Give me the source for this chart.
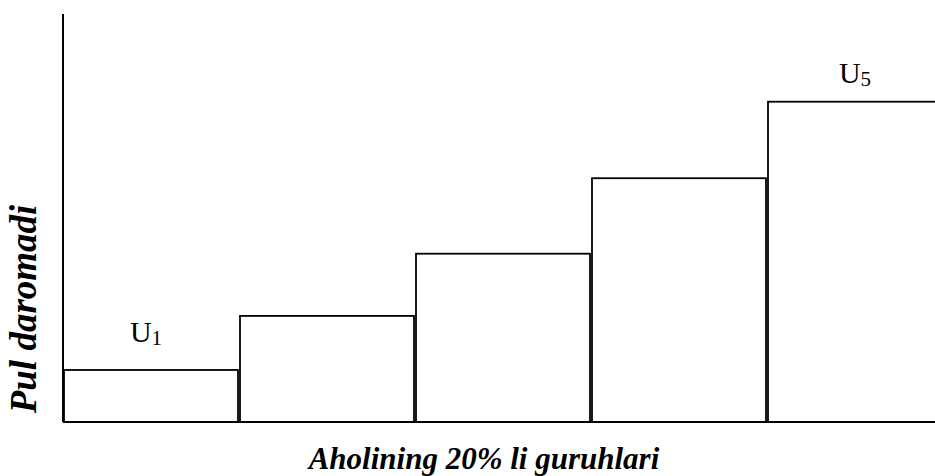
<!DOCTYPE html>
<html>
<head>
<meta charset="utf-8">
<script src="https://cdn.jsdelivr.net/npm/d3@7"></script>
<style>
  body { margin: 0; background: #fff; }
  svg text { font-family: "Liberation Serif", "Times New Roman", Times, serif; }
</style>
</head>
<body>
<div id="chart"></div>
<script>
// Quintile groups and their money income (relative units)
const groups = ["1", "2", "3", "4", "5"];
const income = [5.1, 10.4, 16.5, 23.9, 31.4];
const labelled = ["1", "5"]; // only first and last are tagged U1 / U5

const width = 935;
const height = 476;
const margin = { top: 14, right: -8, bottom: 54, left: 63 };

const svg = d3
  .select("#chart")
  .append("svg")
  .attr("width", width)
  .attr("height", height);

const x = d3
  .scaleBand()
  .domain(groups)
  .range([margin.left, width - margin.right])
  .padding(0);

const y = d3
  .scaleLinear()
  .domain([0, 40])
  .range([height - margin.bottom, margin.top]);

const data = groups.map((g, i) => ({ group: g, value: income[i] }));

// Bars
svg
  .selectAll("rect.bar")
  .data(data)
  .join("rect")
  .attr("class", "bar")
  .attr("x", (d) => x(d.group) + 1)
  .attr("y", (d) => y(d.value))
  .attr("width", x.bandwidth() - 2)
  .attr("height", (d) => y(0) - y(d.value))
  .attr("fill", "#fff")
  .attr("stroke", "#000")
  .attr("stroke-width", 1.8);

// Axes (plain lines, no ticks)
svg
  .append("line")
  .attr("x1", x.range()[0])
  .attr("x2", width)
  .attr("y1", y(0))
  .attr("y2", y(0))
  .attr("stroke", "#000")
  .attr("stroke-width", 2);

svg
  .append("line")
  .attr("x1", x.range()[0])
  .attr("x2", x.range()[0])
  .attr("y1", y(0))
  .attr("y2", y.range()[1])
  .attr("stroke", "#000")
  .attr("stroke-width", 2);

// U labels above first and last bars
const uLabel = svg
  .selectAll("text.ulabel")
  .data(data.filter((d) => labelled.includes(d.group)))
  .join("text")
  .attr("class", "ulabel")
  .attr("x", (d) => x(d.group) + x.bandwidth() / 2 + (d.group === "1" ? -5 : 0))
  .attr("y", (d) => y(d.value) - (d.group === "1" ? 28 : 19))
  .attr("text-anchor", "middle")
  .style("font-size", "30px");
uLabel.append("tspan").text("U");
uLabel
  .append("tspan")
  .attr("dy", 3)
  .style("font-size", "21px")
  .text((d) => d.group);

// X axis label
svg
  .append("text")
  .attr("x", 484)
  .attr("y", 469)
  .attr("text-anchor", "middle")
  .style("font-size", "31px")
  .style("font-weight", "bold")
  .style("font-style", "italic")
  .text("Aholining 20% li guruhlari");

// Y axis label
svg
  .append("text")
  .attr("transform", "translate(36,309) rotate(-90)")
  .attr("text-anchor", "middle")
  .style("font-size", "37px")
  .style("font-weight", "bold")
  .style("font-style", "italic")
  .text("Pul daromadi");
</script>
</body>
</html>
